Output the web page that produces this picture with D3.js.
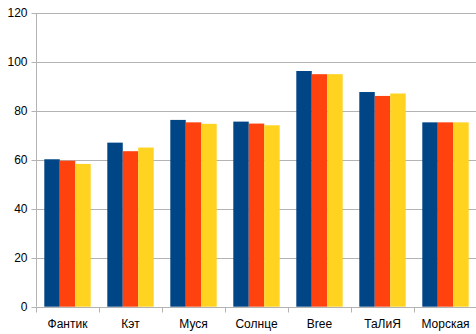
<!DOCTYPE html>
<html><head><meta charset="utf-8">
<script src="https://cdn.jsdelivr.net/npm/d3@7"></script>
<style>body{margin:0;background:#fff}svg{display:block}</style>
</head><body>
<svg id="c" width="476" height="334"></svg>
<script>
const categories = ["Фантик","Кэт","Муся","Солнце","Bree","ТаЛиЯ","Морская"];
const series1 = [60.3, 67.1, 76.4, 75.7, 96.4, 87.8, 75.4];
const series2 = [59.7, 63.6, 75.4, 74.9, 95.1, 86.2, 75.4];
const series3 = [58.4, 65.1, 74.8, 74.2, 95.1, 87.2, 75.4];
const seriesColors = ["#004586","#ff420e","#ffd320"];
const yTicks = [0,20,40,60,80,100,120];

(function(){
const svg = d3.select("#c");
const mLeft = 36, mRight = 477, mTop = 13.3, mBottom = 306.7;
const x = d3.scaleBand().domain(categories).range([mLeft, mRight]).paddingInner(0).paddingOuter(0);
const y = d3.scaleLinear().domain([0,120]).range([mBottom, mTop]);
const allSeries = [series1, series2, series3];
const groupPad = 8.3;
const xs = d3.scaleBand().domain([0,1,2]).range([groupPad, x.bandwidth()-groupPad]).padding(0);

// gridlines
svg.append("g").selectAll("line").data(yTicks).join("line")
  .attr("x1", mLeft).attr("x2", 476)
  .attr("y1", d => Math.round(y(d))+0.5).attr("y2", d => Math.round(y(d))+0.5)
  .attr("stroke", "#b3b3b3").attr("stroke-width", 1);

// bars
const g = svg.append("g");
categories.forEach((c, i) => {
  allSeries.forEach((s, j) => {
    g.append("rect")
      .attr("x", x(c) + xs(j))
      .attr("width", xs.bandwidth())
      .attr("y", y(s[i]))
      .attr("height", y(0) - y(s[i]))
      .attr("fill", seriesColors[j]);
  });
});

// y axis
const yAxis = d3.axisLeft(y).tickValues(yTicks).tickSize(5).tickPadding(4);
const ya = svg.append("g").attr("transform", `translate(${mLeft+0.5},0)`).call(yAxis);
ya.select(".domain").attr("stroke", "#b3b3b3").attr("d", `M0,${mTop}V${mBottom}`);
ya.selectAll(".tick line").attr("stroke", "#b3b3b3");
ya.selectAll(".tick text").attr("font-family", "Liberation Sans, Arial, sans-serif").attr("font-size", 12).attr("fill", "#000");
ya.selectAll(".tick").attr("transform", d => `translate(0,${Math.round(y(d))+0.5})`);

// x axis
const xa = svg.append("g").attr("transform", `translate(0,${Math.round(mBottom)+0.5})`);
xa.append("line").attr("x1", mLeft).attr("x2", 476).attr("stroke", "#b3b3b3");
const bounds = categories.map(c => x(c)).concat([mRight]);
xa.selectAll("line.sep").data(bounds).join("line").attr("class","sep")
  .attr("x1", d => Math.round(d)+0.5).attr("x2", d => Math.round(d)+0.5)
  .attr("y1", 0).attr("y2", 5).attr("stroke", "#b3b3b3");
xa.selectAll("text").data(categories).join("text")
  .attr("x", d => x(d) + x.bandwidth()/2).attr("y", 20.5)
  .attr("text-anchor", "middle")
  .attr("font-family", "Liberation Sans, Arial, sans-serif").attr("font-size", 12).attr("fill", "#000")
  .text(d => d);
})();
</script>
</body></html>
